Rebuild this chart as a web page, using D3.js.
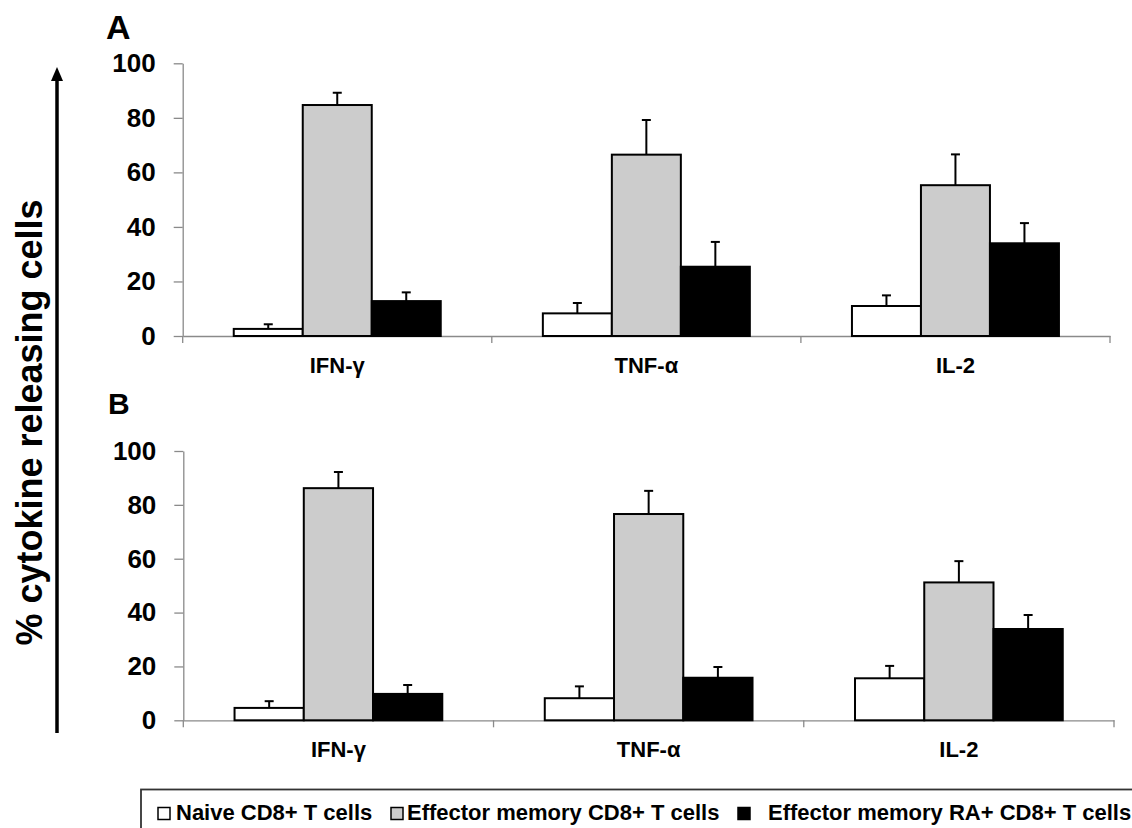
<!DOCTYPE html>
<html>
<head>
<meta charset="utf-8">
<script src="https://cdn.jsdelivr.net/npm/d3@7"></script>
<style>
  html, body { margin: 0; padding: 0; background: #fff; }
  svg { display: block; font-family: "Liberation Sans", Arial, sans-serif; font-weight: bold; }
</style>
</head>
<body>
<svg id="chart" width="1132" height="828"></svg>
<script>
// ---- data ----
const categories = ["IFN-γ", "TNF-α", "IL-2"];
const seriesNames = ["Naive CD8+ T cells", "Effector memory CD8+ T cells", "Effector memory RA+ CD8+ T cells"];
const yTicks = [0, 20, 40, 60, 80, 100];

// Panel A
const aNaive = [2.6, 8.3, 11.0];
const aNaiveErr = [1.7, 3.8, 3.9];
const aEM = [84.7, 66.5, 55.3];
const aEMErr = [4.5, 12.7, 11.3];
const aEMRA = [12.8, 25.4, 34.0];
const aEMRAErr = [3.2, 9.1, 7.4];

// Panel B
const bNaive = [4.6, 8.2, 15.6];
const bNaiveErr = [2.5, 4.4, 4.6];
const bEM = [86.2, 76.6, 51.2];
const bEMErr = [6.0, 8.6, 7.9];
const bEMRA = [9.8, 15.8, 33.9];
const bEMRAErr = [3.3, 4.0, 5.2];

// ---- styling ----
const fills = ["#ffffff", "#cccccc", "#000000"];
const axisColor = "#8a8a8a";

const svg = d3.select("#chart");

const panels = [
  { letter: "A", letterX: 106, letterY: 39, letterSize: 34,
    x0: 182.7, x1: 1110, yTop: 63.3, yBottom: 336,
    values: [aNaive, aEM, aEMRA], errs: [aNaiveErr, aEMErr, aEMRAErr] },
  { letter: "B", letterX: 108, letterY: 414, letterSize: 30,
    x0: 183.3, x1: 1114, yTop: 451, yBottom: 720.3,
    values: [bNaive, bEM, bEMRA], errs: [bNaiveErr, bEMErr, bEMRAErr] }
];

panels.forEach(p => {
  const g = svg.append("g");
  const x = d3.scaleBand().domain(categories).range([p.x0, p.x1]).paddingInner(0).paddingOuter(0);
  const xs = d3.scaleBand().domain(d3.range(seriesNames.length)).range([0, x.bandwidth()]).paddingInner(0).paddingOuter(0.74);
  const y = d3.scaleLinear().domain([0, 100]).range([p.yBottom, p.yTop]);

  // y axis
  const yAxis = g.append("g").attr("transform", `translate(${p.x0},0)`)
    .call(d3.axisLeft(y).tickValues(yTicks).tickSize(9).tickSizeOuter(0).tickPadding(18));
  yAxis.selectAll("path, line").attr("stroke", axisColor).attr("stroke-width", 1.3);
  yAxis.selectAll("text").attr("font-size", 26).attr("font-weight", "bold")
    .attr("fill", "#000").attr("font-family", '"Liberation Sans", Arial, sans-serif');

  // x axis (domain + centred labels)
  const xAxis = g.append("g").attr("transform", `translate(0,${p.yBottom})`)
    .call(d3.axisBottom(x).tickSize(0).tickSizeOuter(0).tickPadding(21));
  xAxis.selectAll("path").attr("stroke", axisColor).attr("stroke-width", 1.3);
  xAxis.selectAll("text").attr("font-size", 22).attr("font-weight", "bold")
    .attr("fill", "#000").attr("font-family", '"Liberation Sans", Arial, sans-serif');

  // boundary ticks
  const bounds = categories.map(c => x(c)).concat([x(categories[categories.length - 1]) + x.bandwidth()]);
  g.append("g").selectAll("line").data(bounds).join("line")
    .attr("x1", d => d).attr("x2", d => d)
    .attr("y1", p.yBottom).attr("y2", p.yBottom + 7)
    .attr("stroke", axisColor).attr("stroke-width", 1.3);

  // bars + error bars
  p.values.forEach((vals, si) => {
    const sg = g.append("g");
    sg.selectAll("rect").data(categories).join("rect")
      .attr("x", (c) => x(c) + xs(si))
      .attr("width", xs.bandwidth())
      .attr("y", (c, i) => y(vals[i]))
      .attr("height", (c, i) => y(0) - y(vals[i]))
      .attr("fill", fills[si])
      .attr("stroke", "#000").attr("stroke-width", 2);
    const errs = p.errs[si];
    sg.selectAll("line.err").data(categories).join("line").attr("class", "err")
      .attr("x1", c => x(c) + xs(si) + xs.bandwidth() / 2)
      .attr("x2", c => x(c) + xs(si) + xs.bandwidth() / 2)
      .attr("y1", (c, i) => y(vals[i]))
      .attr("y2", (c, i) => y(vals[i] + errs[i]))
      .attr("stroke", "#000").attr("stroke-width", 2);
    sg.selectAll("line.cap").data(categories).join("line").attr("class", "cap")
      .attr("x1", c => x(c) + xs(si) + xs.bandwidth() / 2 - 4.5)
      .attr("x2", c => x(c) + xs(si) + xs.bandwidth() / 2 + 4.5)
      .attr("y1", (c, i) => y(vals[i] + errs[i]))
      .attr("y2", (c, i) => y(vals[i] + errs[i]))
      .attr("stroke", "#000").attr("stroke-width", 2);
  });

  // panel letter
  svg.append("text").attr("x", p.letterX).attr("y", p.letterY)
    .attr("font-size", p.letterSize).attr("font-weight", "bold").text(p.letter);
});

// y title + arrow
svg.append("text")
  .attr("transform", "translate(42,422.5) rotate(-90)")
  .attr("text-anchor", "middle")
  .attr("font-size", 36).attr("font-weight", "bold")
  .text("% cytokine releasing cells");

svg.append("line").attr("x1", 57).attr("x2", 57).attr("y1", 733).attr("y2", 78)
  .attr("stroke", "#000").attr("stroke-width", 3.5);
svg.append("path").attr("d", "M57,67 L51,81 L63,81 Z").attr("fill", "#000");

// legend
const legend = svg.append("g");
legend.append("rect").attr("x", 141).attr("y", 789.5).attr("width", 1050).attr("height", 80)
  .attr("fill", "none").attr("stroke", "#333").attr("stroke-width", 1.8);
const legendSwatchX = [158, 391, 738];
const legendTextX = [176, 407, 768];
seriesNames.forEach((name, i) => {
  legend.append("rect").attr("x", legendSwatchX[i]).attr("y", 807.5)
    .attr("width", 12).attr("height", 12)
    .attr("fill", fills[i]).attr("stroke", "#000").attr("stroke-width", 1.5);
  legend.append("text").attr("x", legendTextX[i]).attr("y", 820)
    .attr("font-size", 22).attr("font-weight", "bold").text(name);
});
</script>
</body>
</html>
